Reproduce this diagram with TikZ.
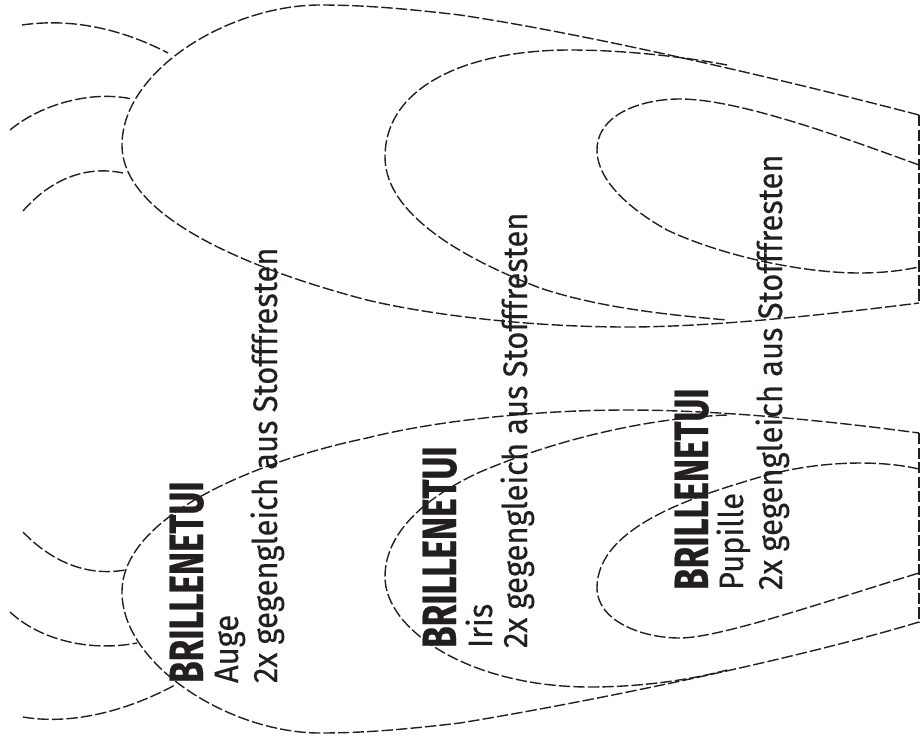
\documentclass[tikz,border=0pt]{standalone}
\usepackage{fontspec}
\setmainfont[FakeStretch=0.91,FakeBold=0.35]{Fira Sans}
\newfontfamily\boldcond[FakeStretch=0.73,FakeBold=0.5]{Fira Sans Bold}
\definecolor{ink}{HTML}{231F20}
\tikzset{
  cut/.style={draw=ink,line width=1.05pt,dash pattern=on 8.5pt off 2.4pt},
  head/.style={rotate=90,anchor=base west,inner sep=0pt,outer sep=0pt,text=ink,font=\boldcond\fontsize{36}{36}\selectfont},
  body/.style={rotate=90,anchor=base west,inner sep=0pt,outer sep=0pt,text=ink,font=\fontsize{25.5}{25.5}\selectfont}
}
\begin{document}
\begin{tikzpicture}[x=0.75pt,y=-0.75pt]
\useasboundingbox (0,0) rectangle (923,739);
% upper eye
\draw[cut] (919,115) .. controls (800,84) and (600,36) .. (460,15) .. controls (400,8) and (360,5) .. (320,5) .. controls (230,5) and (122,70) .. (122,145) .. controls (122,220) and (260,272) .. (367,300) .. controls (430,315) and (530,327) .. (627,327) .. controls (700,327) and (800,318) .. (919,303);
\draw[cut] (727,65) .. controls (680,56) and (620,50) .. (570,50) .. controls (470,50) and (385,85) .. (385,157) .. controls (385,220) and (480,265) .. (540,288) .. controls (600,308) and (670,315) .. (727,320);
\draw[cut] (919,165) .. controls (850,140) and (740,99) .. (680,99) .. controls (640,99) and (597,115) .. (597,150) .. controls (597,185) and (640,215) .. (667,230) .. controls (720,255) and (800,273) .. (860,273) .. controls (880,273) and (900,271) .. (919,267);
\draw[cut] (919,115) -- (919,303);
\draw[cut] (22,25) .. controls (70,18) and (120,28) .. (168,53);
\draw[cut] (10,130) .. controls (40,105) and (90,90) .. (132,99);
\draw[cut] (23,211) .. controls (50,180) and (85,165) .. (123,173);
% lower eye
\draw[cut] (919,622) .. controls (800,658) and (600,700) .. (460,723) .. controls (400,730) and (360,733) .. (320,733) .. controls (230,733) and (122,665) .. (122,592) .. controls (122,515) and (260,460) .. (367,438) .. controls (430,422) and (530,410) .. (627,410) .. controls (700,410) and (800,417) .. (919,433);
\draw[cut] (727,415) .. controls (650,418) and (560,438) .. (480,472) .. controls (430,495) and (385,530) .. (385,577) .. controls (385,630) and (470,687) .. (590,687) .. controls (640,687) and (690,680) .. (727,670);
\draw[cut] (919,469) .. controls (880,460) and (820,460) .. (760,477) .. controls (700,495) and (597,525) .. (597,588) .. controls (597,620) and (640,638) .. (680,638) .. controls (720,638) and (830,600) .. (919,573);
\draw[cut] (919,433) -- (919,622);
\draw[cut] (23,717) .. controls (70,725) and (125,712) .. (175,685);
\draw[cut] (10,612) .. controls (40,640) and (90,652) .. (137,643);
\draw[cut] (23,532) .. controls (50,560) and (85,577) .. (125,570);
% texts
\node[head] (h1) at (203,683) {BRILLENETUI};
\node[body] (a1) at (238,683) {Auge};
\node[body] (b1) at (277,683) {2x gegengleich aus Stofffresten};
\node[head] (h2) at (456,648) {BRILLENETUI};
\node[body] (a2) at (492,648) {Iris};
\node[body] (b2) at (527,648) {2x gegengleich aus Stofffresten};
\node[head] (h3) at (708,590) {BRILLENETUI};
\node[body] (a3) at (743,590) {Pupille};
\node[body] (b3) at (782,590) {2x gegengleich aus Stofffresten};
\end{tikzpicture}
\end{document}
